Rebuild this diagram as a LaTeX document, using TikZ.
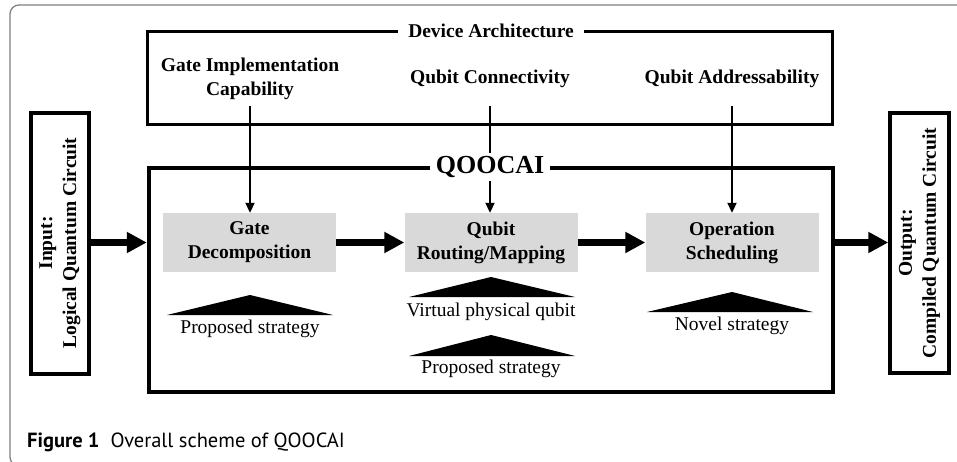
\documentclass[tikz,border=0pt]{standalone}
\usepackage{fontspec}
\setmainfont{Liberation Serif}
\newfontfamily\capfont{PT Sans}
\usetikzlibrary{arrows.meta}
\begin{document}
\begin{tikzpicture}[x=1pt,y=-1pt,
  lbl/.style={font=\fontsize{19.5}{24}\selectfont\bfseries, align=center, inner sep=0pt},
  plain/.style={font=\fontsize{19.5}{24}\selectfont, align=center, inner sep=0pt},
  graybox/.style={fill=black!15, draw=none, minimum width=173pt, minimum height=59pt, lbl},
  thinarrow/.style={line width=2pt, -{Triangle[length=10pt,width=9pt]}},
  thickarrow/.style={line width=7pt, -{Triangle[length=20pt,width=20pt]}},
  tri/.style={fill=black}
]
\useasboundingbox (0,0) rectangle (957,462);
% outer frame
\draw[black!50, line width=1.3pt, rounded corners=9pt] (970,5) -- (10,5) -- (10,466) -- (970,466);

% device architecture box
\node[draw, line width=3pt, minimum width=685pt, minimum height=93pt, inner sep=0pt] (dev) at (489.5,78.5) {};
% qoocai box
\node[draw, line width=4.5pt, minimum width=684pt, minimum height=224pt, inner sep=0pt] (qbox) at (491,280) {};

% input / output boxes
\node[draw, line width=3.5pt, minimum width=58pt, minimum height=261pt, inner sep=0pt] (inbox) at (60,243.5) {};
\node[lbl, rotate=90] (intext) at (60,243) {Input:\\Logical Quantum Circuit};
\node[draw, line width=3.5pt, minimum width=59pt, minimum height=260pt, inner sep=0pt] (outbox) at (919.5,243) {};
\node[lbl, rotate=90] (outtext) at (919.5,243) {Output:\\Compiled Quantum Circuit};

% gray process boxes
\node[graybox] (gd) at (249.5,242.5) {Gate\\Decomposition};
\node[graybox] (qr) at (491,242.5) {Qubit\\Routing/Mapping};
\node[graybox] (os) at (732,242.5) {Operation\\Scheduling};

% capability labels
\node[lbl] (gic) at (250,79) {Gate Implementation\\Capability};
\node[lbl] (qc) at (490,79) {Qubit Connectivity};
\node[lbl] (qa) at (732,79) {Qubit Addressability};
\coordinate (s1) at (250,106);
\coordinate (s2) at (490,106);
\coordinate (s3) at (732,106);

% thin arrows
\draw[thinarrow] (s1) -- (s1 |- gd.north);
\draw[thinarrow] (s2) -- (s2 |- qr.north);
\draw[thinarrow] (s3) -- (s3 |- os.north);

% titles covering lines
\node[lbl, fill=white, inner xsep=10pt, inner ysep=2pt] (devtitle) at (491,31) {Device Architecture};
\node[font=\fontsize{26}{28}\selectfont\bfseries, fill=white, inner xsep=6pt, inner ysep=3pt] (qtitle) at (490,167) {QOOCAI};

% thick arrows
\draw[thickarrow] (inbox.east |- gd.east) -- (qbox.west |- gd.east);
\draw[thickarrow] (gd.east) -- (qr.west);
\draw[thickarrow] (qr.east) -- (os.west);
\draw[thickarrow] (qbox.east |- os.east) -- (outbox.west |- os.east);

% strategy triangles
\fill[tri] (167,315) -- (250,295) -- (333,315) -- cycle;
\node[plain] (ps1) at (250,329) {Proposed strategy};
\fill[tri] (409,297) -- (491,277) -- (575,297) -- cycle;
\node[plain] (vpq) at (491,312) {Virtual physical qubit};
\fill[tri] (409,356) -- (491,335) -- (575,356) -- cycle;
\node[plain] (ps2) at (491,369) {Proposed strategy};
\fill[tri] (647,312) -- (732,292) -- (813,312) -- cycle;
\node[plain] (ns) at (732,326) {Novel strategy};

% caption
\node[anchor=base west, inner sep=0pt, font=\capfont\fontsize{20.5}{22}\selectfont] (cap) at (27,447) {\textbf{Figure 1}\hspace{11pt}Overall scheme of QOOCAI};
\end{tikzpicture}
\end{document}
